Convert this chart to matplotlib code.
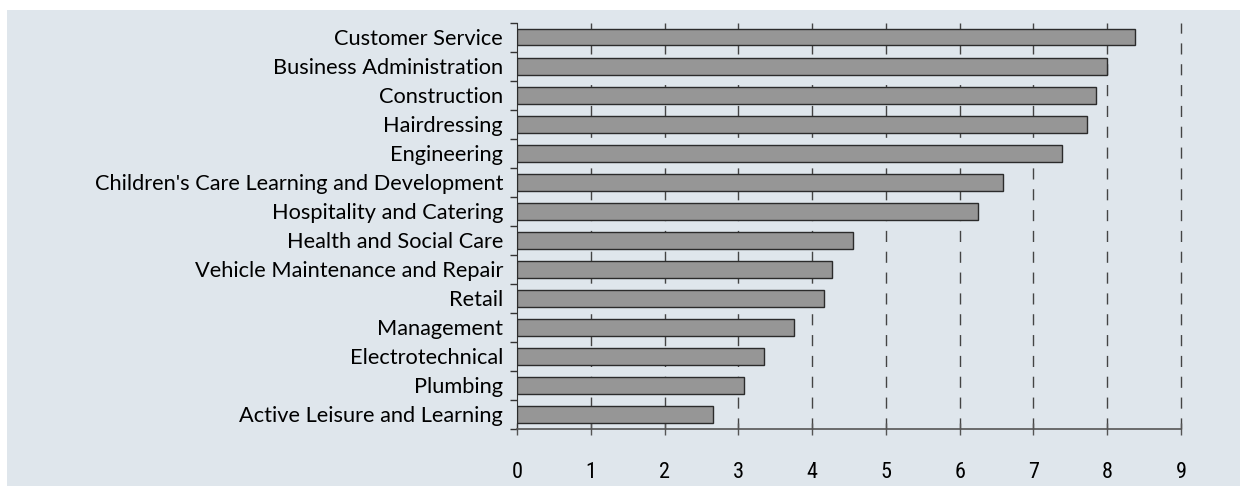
import matplotlib
matplotlib.use("Agg")
import matplotlib.pyplot as plt
import numpy as np

categories = ["Customer Service", "Business Administration", "Construction", "Hairdressing",
              "Engineering", "Children's Care Learning and Development", "Hospitality and Catering",
              "Health and Social Care", "Vehicle Maintenance and Repair", "Retail", "Management",
              "Electrotechnical", "Plumbing", "Active Leisure and Learning"]
values = [8.37, 8.00, 7.85, 7.72, 7.39, 6.59, 6.25, 4.56, 4.27, 4.16, 3.75, 3.35, 3.08, 2.66]
xticks = [0, 1, 2, 3, 4, 5, 6, 7, 8, 9]

plt.rcParams['font.family'] = ['Lato', 'DejaVu Sans']

W, H = 1240, 486
fig = plt.figure(figsize=(W/100, H/100), dpi=100, facecolor="white")

bg = fig.add_axes([7/W, 0, 1 - 7/W, 1 - 10/H], zorder=-10)
bg.set_facecolor("#dfe6ec")
bg.set_xticks([]); bg.set_yticks([])
for s in bg.spines.values():
    s.set_visible(False)

ax = fig.add_axes([517/W, 1 - 429/H, (1181 - 517)/W, (429 - 22.7)/H], zorder=1)
ax.set_facecolor("none")

n = len(categories)
ypos = np.arange(n)[::-1]
ax.barh(ypos, values, height=0.57, color="#969696", edgecolor="#2b2b2b", linewidth=1.0, zorder=3)

ax.set_xlim(0, 9)
ax.set_ylim(-0.5, n - 0.5)
ax.set_xticks(xticks)
ax.set_xticklabels([str(t) for t in xticks], fontsize=16,
                   family=['Roboto Condensed', 'DejaVu Sans'])
ax.set_yticks(ypos)
ax.set_yticklabels(categories, fontsize=15.7)
ax.tick_params(axis="y", which="major", length=0, pad=10)
ax.set_yticks(np.arange(-0.5, n, 1.0), minor=True)
ax.tick_params(axis="y", which="minor", length=5, width=1, color="#333333", direction="out")
ax.tick_params(axis="x", length=8, width=1, color="#555555", direction="inout", pad=20)

for x in xticks[1:]:
    ax.axvline(x, color="#444444", linewidth=1.0, linestyle=(0, (8, 7)), zorder=1, clip_on=False)

for s in ["top", "right"]:
    ax.spines[s].set_visible(False)
ax.spines["left"].set_color("#333333")
ax.spines["bottom"].set_color("#555555")
ax.spines["bottom"].set_linewidth(1.2)

fig.savefig("out.png", dpi=100, facecolor="white")
